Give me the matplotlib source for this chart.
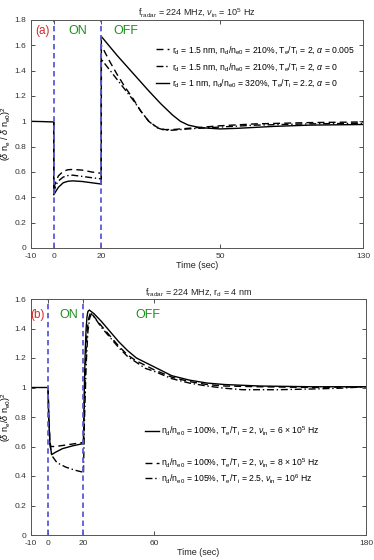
import numpy as np
import matplotlib
matplotlib.use("Agg")
import matplotlib.pyplot as plt
from matplotlib.lines import Line2D
from matplotlib.legend import Legend

plt.rcParams['font.family'] = ['Liberation Sans', 'DejaVu Sans']
plt.rcParams['mathtext.fontset'] = 'custom'
plt.rcParams['mathtext.rm'] = 'Liberation Sans'
plt.rcParams['mathtext.it'] = 'Liberation Sans:italic'
plt.rcParams['mathtext.sf'] = 'Liberation Sans'

# ---------------- Panel (a) data ----------------
a_t_pre = [-10, -5, 0]
a_solid_pre = [1.0, 0.998, 0.995]

a_t_on = [0, 0.01, 1, 2, 4, 6, 8, 12, 16, 20]
a_solid_on = [0.995, 0.42, 0.45, 0.48, 0.515, 0.527, 0.53, 0.525, 0.515, 0.505]
a_dash_on = [0.995, 0.47, 0.53, 0.57, 0.605, 0.618, 0.62, 0.615, 0.60, 0.59]
a_dashdot_on = [0.995, 0.44, 0.50, 0.53, 0.56, 0.572, 0.575, 0.565, 0.555, 0.545]

a_t_off_solid = [20, 20.01, 24, 28, 32, 35, 38, 40, 42, 45, 50, 60, 80, 100, 130]
a_solid_off = [0.505, 1.67, 1.52, 1.38, 1.24, 1.14, 1.05, 1.0, 0.97, 0.95, 0.94, 0.945, 0.96, 0.97, 0.975]
a_t_off = [20, 20.01, 22, 24, 26, 28, 30, 32, 34, 36, 38, 42, 50, 70, 100, 130]
a_dash_off = [0.59, 1.60, 1.48, 1.37, 1.27, 1.18, 1.08, 1.0, 0.955, 0.935, 0.935, 0.945, 0.965, 0.98, 0.99, 0.995]
a_dashdot_off = [0.545, 1.49, 1.41, 1.33, 1.25, 1.17, 1.08, 1.0, 0.95, 0.93, 0.93, 0.94, 0.955, 0.97, 0.98, 0.985]

a_labels = [r'r$_\mathregular{d}$ = 1.5 nm, n$_\mathregular{d}$/n$_\mathregular{e0}$ = 210%, T$_\mathregular{e}$/T$_\mathregular{i}$ = 2, $\alpha$ = 0.005',
            r'r$_\mathregular{d}$ = 1.5 nm, n$_\mathregular{d}$/n$_\mathregular{e0}$ = 210%, T$_\mathregular{e}$/T$_\mathregular{i}$ = 2, $\alpha$ = 0',
            r'r$_\mathregular{d}$ = 1 nm, n$_\mathregular{d}$/n$_\mathregular{e0}$ = 320%, T$_\mathregular{e}$/T$_\mathregular{i}$ = 2.2, $\alpha$ = 0']
a_xticks = [-10, 0, 20, 50, 130]
a_xtick_px = [0, 23.2, 70.8, 189.5, 332.5]   # non-uniform axis mapping
a_yticks = [0, 0.2, 0.4, 0.6, 0.8, 1, 1.2, 1.4, 1.6, 1.8]

# ---------------- Panel (b) data ----------------
b_t_pre = [-10, -5, 0]
b_pre = [1.0, 1.0, 1.0]

b_t_on_solid = [0, 0.3, 1, 2, 4, 8, 14, 20]
b_solid_on = [1.0, 0.8, 0.62, 0.545, 0.56, 0.585, 0.605, 0.62]
b_t_on_dash = [0, 0.3, 1, 1.5, 4, 10, 20]
b_dash_on = [1.0, 0.8, 0.63, 0.60, 0.60, 0.61, 0.628]
b_t_on_dd = [0, 0.3, 1, 2, 5, 10, 15, 20]
b_dashdot_on = [1.0, 0.8, 0.62, 0.54, 0.49, 0.46, 0.44, 0.425]

b_t_off_solid = [20, 20.3, 21, 21.5, 22, 22.5, 23.3, 26, 30, 35, 40, 45, 50, 55, 60, 70, 80, 90, 100, 120, 150, 180]
b_solid_off = [0.62, 0.9, 1.25, 1.40, 1.48, 1.515, 1.525, 1.50, 1.45, 1.38, 1.31, 1.25, 1.20, 1.17, 1.14, 1.08, 1.05, 1.03, 1.02, 1.01, 1.005, 1.005]
b_t_off_dash = [20, 20.5, 21.3, 22, 23, 24, 26, 30, 35, 40, 45, 50, 55, 60, 70, 80, 90, 100, 120, 150, 180]
b_dash_off = [0.628, 0.9, 1.2, 1.38, 1.47, 1.51, 1.48, 1.42, 1.35, 1.28, 1.22, 1.18, 1.15, 1.12, 1.07, 1.04, 1.02, 1.01, 1.005, 1.0, 1.005]
b_t_off_dd = [20, 20.5, 21.5, 22.5, 23.5, 24.5, 26, 30, 35, 40, 45, 50, 55, 60, 70, 80, 90, 100, 110, 130, 150, 165, 180]
b_dashdot_off = [0.425, 0.75, 1.15, 1.38, 1.47, 1.50, 1.48, 1.41, 1.34, 1.27, 1.21, 1.17, 1.13, 1.11, 1.06, 1.03, 1.01, 0.995, 0.985, 0.985, 0.99, 0.995, 1.005]

b_labels = [r'n$_\mathregular{d}$/n$_\mathregular{e0}$ = 100%, T$_\mathregular{e}$/T$_\mathregular{i}$ = 2, $\nu_\mathregular{in}$ = 6 $\times$ 10$^\mathregular{5}$ Hz',
            r'n$_\mathregular{d}$/n$_\mathregular{e0}$ = 100%, T$_\mathregular{e}$/T$_\mathregular{i}$ = 2, $\nu_\mathregular{in}$ = 8 $\times$ 10$^\mathregular{5}$ Hz',
            r'n$_\mathregular{d}$/n$_\mathregular{e0}$ = 105%, T$_\mathregular{e}$/T$_\mathregular{i}$ = 2.5, $\nu_\mathregular{in}$ = 10$^\mathregular{6}$ Hz']
b_xticks = [-10, 0, 20, 60, 180]
b_yticks = [0, 0.2, 0.4, 0.6, 0.8, 1, 1.2, 1.4, 1.6]

# ---------------- styling ----------------
AX_COL = '#333333'
VCOL = '#5a5ad6'
GREEN = '#1f8f1f'
RED = '#d62728'
LW = 1.0
DASH = (0, (5, 3))
DASHDOT = (0, (5, 2, 1, 2))

fig = plt.figure(figsize=(3.74, 5.6), dpi=100)
axa = fig.add_axes([30.5/374, 1-248/560, 332.5/374, 228/560])
axb = fig.add_axes([30.5/374, 1-535/560, 335.5/374, 236/560])

# non-uniform x scale for panel (a)
def _fwd(x):
    x = np.asarray(x, float)
    xs = np.array(a_xticks, float); ps = np.array(a_xtick_px, float)
    y = np.interp(x, xs, ps)
    y = np.where(x < xs[0], ps[0] + (x - xs[0]) * (ps[1]-ps[0])/(xs[1]-xs[0]), y)
    y = np.where(x > xs[-1], ps[-1] + (x - xs[-1]) * (ps[-1]-ps[-2])/(xs[-1]-xs[-2]), y)
    return y
def _inv(p):
    p = np.asarray(p, float)
    xs = np.array(a_xticks, float); ps = np.array(a_xtick_px, float)
    y = np.interp(p, ps, xs)
    y = np.where(p < ps[0], xs[0] + (p - ps[0]) * (xs[1]-xs[0])/(ps[1]-ps[0]), y)
    y = np.where(p > ps[-1], xs[-1] + (p - ps[-1]) * (xs[-1]-xs[-2])/(ps[-1]-ps[-2]), y)
    return y
axa.set_xscale('function', functions=(_fwd, _inv))

def style(ax, xticks, yticks, xlim, ylim):
    ax.set_xlim(*xlim)
    ax.set_ylim(*ylim)
    ax.set_xticks(xticks)
    ax.set_xticklabels([str(v) for v in xticks])
    ax.set_yticks(yticks)
    ax.set_yticklabels([('%g' % v) for v in yticks])
    ax.tick_params(direction='in', length=3, width=0.6, colors=AX_COL, labelsize=6,
                   top=True, right=True)
    ax.tick_params(axis='x', pad=3.5)
    ax.tick_params(axis='y', pad=3)
    ax.minorticks_off()
    for s in ax.spines.values():
        s.set_color('#555555')
        s.set_linewidth(0.7)
    ax.set_xlabel('Time (sec)', fontsize=6.5, color='#222222', labelpad=1)

# ---- panel a ----
axa.plot(a_t_pre + a_t_on, a_solid_pre + a_solid_on, color='k', lw=LW)
axa.plot(a_t_on, a_dash_on, color='k', lw=LW, linestyle=DASH)
axa.plot(a_t_on, a_dashdot_on, color='k', lw=LW, linestyle=DASHDOT)
axa.plot(a_t_off_solid, a_solid_off, color='k', lw=LW)
axa.plot(a_t_off, a_dash_off, color='k', lw=LW, linestyle=DASH)
axa.plot(a_t_off, a_dashdot_off, color='k', lw=LW, linestyle=DASHDOT)
for xv in (0, 20):
    axa.axvline(xv, color=VCOL, lw=1.3, linestyle=(0, (3, 2)))
style(axa, a_xticks, a_yticks, (-10, 130), (0, 1.8))
axa.set_title(r'f$_\mathregular{radar}$ = 224 MHz, $\nu_\mathregular{in}$ = 10$^\mathregular{5}$ Hz',
              fontsize=6.5, pad=3, color='#222222')
axa.set_ylabel(r'($\delta$ n$_\mathregular{e}$ / $\delta$ n$_\mathregular{e0}$)$^\mathregular{2}$',
               fontsize=6.5, labelpad=1)
axa.text(-5.0, 1.71, '(a)', color=RED, fontsize=8.5, ha='center', va='center')
axa.text(10, 1.71, 'ON', color=GREEN, fontsize=9, ha='center', va='center')
axa.text(26.2, 1.71, 'OFF', color=GREEN, fontsize=9, ha='center', va='center')
ha = [Line2D([], [], color='k', lw=LW, linestyle=DASH),
      Line2D([], [], color='k', lw=LW, linestyle=DASHDOT),
      Line2D([], [], color='k', lw=LW)]
axa.legend(ha, a_labels, loc='upper right', bbox_to_anchor=(0.985, 0.91),
           frameon=False, fontsize=6.2, handlelength=1.6, handletextpad=0.3,
           labelspacing=0.55, borderaxespad=0)

# ---- panel b ----
axb.plot(b_t_pre + b_t_on_solid[1:], b_pre + b_solid_on[1:], color='k', lw=LW)
axb.plot(b_t_on_dash, b_dash_on, color='k', lw=LW, linestyle=DASH)
axb.plot(b_t_on_dd, b_dashdot_on, color='k', lw=LW, linestyle=DASHDOT)
axb.plot(b_t_off_solid, b_solid_off, color='k', lw=LW)
axb.plot(b_t_off_dash, b_dash_off, color='k', lw=LW, linestyle=DASH)
axb.plot(b_t_off_dd, b_dashdot_off, color='k', lw=LW, linestyle=DASHDOT)
for xv in (0, 20):
    axb.axvline(xv, color=VCOL, lw=1.3, linestyle=(0, (3, 2)))
style(axb, b_xticks, b_yticks, (-10, 180), (0, 1.6))
axb.set_title(r'f$_\mathregular{radar}$ = 224 MHz, r$_\mathregular{d}$ = 4 nm',
              fontsize=6.5, pad=3, color='#222222')
axb.set_ylabel(r'($\delta$ n$_\mathregular{e}$/$\delta$ n$_\mathregular{e0}$)$^\mathregular{2}$',
               fontsize=6.5, labelpad=1)
axb.text(-5.9, 1.49, '(b)', color=RED, fontsize=8.5, ha='center', va='center')
axb.text(11.4, 1.49, 'ON', color=GREEN, fontsize=9, ha='center', va='center')
axb.text(56.7, 1.49, 'OFF', color=GREEN, fontsize=9, ha='center', va='center')
hb = [Line2D([], [], color='k', lw=LW),
      Line2D([], [], color='k', lw=LW, linestyle=DASH),
      Line2D([], [], color='k', lw=LW, linestyle=DASHDOT)]
row_y = [0.705, 0.49, 0.385]   # legend row heights in data units
for h, lab, yv in zip(hb, b_labels, row_y):
    lg = Legend(axb, [h], [lab], loc='center left',
                bbox_to_anchor=((145 - 30.5) / 335.5, yv / 1.6),
                frameon=False, fontsize=6.2, handlelength=1.6, handletextpad=0.3,
                borderaxespad=0, borderpad=0)
    axb.add_artist(lg)

fig.savefig('out.png', dpi=100)
